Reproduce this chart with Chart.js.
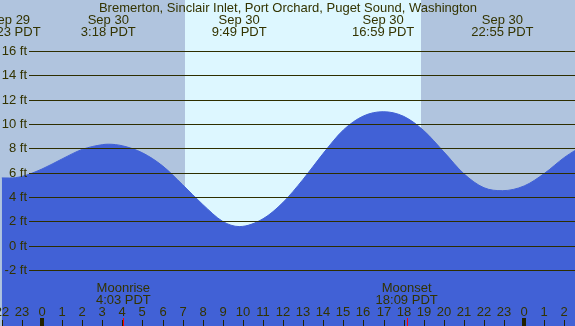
<!DOCTYPE html>
<html>
<head>
<meta charset="utf-8">
<script src="https://cdn.jsdelivr.net/npm/chart.js@4/dist/chart.umd.min.js"></script>
<style>
html,body{margin:0;padding:0;background:#b0c4de;}
#wrap{width:575px;height:326px;position:relative;}
</style>
</head>
<body>
<div id="wrap"><canvas id="c" width="575" height="326"></canvas></div>
<script>
// Hours relative to Sep 30 00:00 PDT, and tide level in feet
const hours  = [-2, -1.617, -1, 0, 1, 2, 3, 3.3, 4, 5, 6, 7, 8, 9, 9.817, 11, 12, 13, 14, 15, 16, 16.983, 18, 19, 20, 21, 22, 22.917, 24, 25, 26, 27];
const levels = [5.56, 5.55, 5.68, 6.29, 7.12, 7.9, 8.29, 8.33, 8.2, 7.62, 6.55, 5.0, 3.38, 1.98, 1.56, 2.2, 3.55, 5.45, 7.58, 9.5, 10.65, 11.0, 10.62, 9.45, 7.7, 5.9, 4.75, 4.51, 4.9, 5.92, 7.24, 8.3];

// Extremes labels at top
const extremeHours = [-1.617, 3.3, 9.817, 16.983, 22.917];
const extremeDates = ["Sep 29", "Sep 30", "Sep 30", "Sep 30", "Sep 30"];
const extremeTimes = ["22:23 PDT", "3:18 PDT", "9:49 PDT", "16:59 PDT", "22:55 PDT"];

// Y ticks (feet)
const yTicks = [-2, 0, 2, 4, 6, 8, 10, 12, 14, 16];

// Hour ticks along bottom
const hourTicks = [-2,-1,0,1,2,3,4,5,6,7,8,9,10,11,12,13,14,15,16,17,18,19,20,21,22,23,24,25,26,27];
const hourLabels = ["22","23","0","1","2","3","4","5","6","7","8","9","10","11","12","13","14","15","16","17","18","19","20","21","22","23","0","1","2","3"];
const midnightHours = [0, 24];

// Sun and moon events
const sunrise = 7.12, sunset = 18.87;
const moonEvents = [4.05, 18.15];
const moonNames = ["Moonrise", "Moonset"];
const moonTimes = ["4:03 PDT", "18:09 PDT"];

const title = "Bremerton, Sinclair Inlet, Port Orchard, Puget Sound, Washington";

const NIGHT = "#b0c4de", DAY = "#ddf7ff", WATER = "#4161d6", INK = "#333300", FONT = "13px 'Liberation Sans', Arial, sans-serif";

const bgPlugin = {
  id: "bg",
  beforeDatasetsDraw(chart) {
    const {ctx, chartArea: a, scales: {x}} = chart;
    ctx.save();
    ctx.fillStyle = NIGHT;
    ctx.fillRect(a.left, a.top, a.right - a.left, a.bottom - a.top);
    const x1 = Math.round(x.getPixelForValue(sunrise)), x2 = Math.round(x.getPixelForValue(sunset));
    ctx.fillStyle = DAY;
    ctx.fillRect(x1, a.top, x2 - x1, a.bottom - a.top);
    ctx.restore();
  },
  afterDatasetsDraw(chart) {
    const {ctx, chartArea: a, scales: {x, y}} = chart;
    ctx.save();
    // grid lines + y labels
    ctx.strokeStyle = "#2e2e00";
    ctx.lineWidth = 1;
    ctx.fillStyle = INK;
    ctx.font = FONT;
    ctx.textAlign = "right";
    ctx.textBaseline = "middle";
    yTicks.forEach(v => {
      const py = Math.round(y.getPixelForValue(v)) + 0.5;
      ctx.beginPath();
      ctx.moveTo(29, py);
      ctx.lineTo(a.right, py);
      ctx.stroke();
      ctx.fillText(v + " ft", 27, py);
    });
    // title
    ctx.textAlign = "center";
    ctx.fillText(title, 288, 8);
    // extremes
    extremeHours.forEach((h, i) => {
      const px = x.getPixelForValue(h);
      ctx.fillText(extremeDates[i], px, 20);
      ctx.fillText(extremeTimes[i], px, 32);
    });
    // moon events
    moonEvents.forEach((h, i) => {
      const px = x.getPixelForValue(h);
      ctx.fillText(moonNames[i], px, 288);
      ctx.fillText(moonTimes[i], px, 300);
    });
    // hour labels and ticks
    hourTicks.forEach((h, i) => {
      const px = Math.round(x.getPixelForValue(h));
      ctx.fillStyle = INK;
      ctx.fillText(hourLabels[i], px, 312);
      if (midnightHours.includes(h)) {
        ctx.fillStyle = "#222200";
        ctx.fillRect(px - 2, 318, 4, 8);
      } else {
        ctx.fillStyle = "#222200";
        ctx.fillRect(px, 320, 1, 6);
      }
    });
    moonEvents.forEach(h => {
      const px = Math.round(x.getPixelForValue(h));
      ctx.fillStyle = "#ff0000";
      ctx.fillRect(px, 318, 1, 8);
    });
    ctx.restore();
  }
};

new Chart(document.getElementById("c"), {
  type: "line",
  data: {
    datasets: [{
      data: hours.map((h, i) => ({x: h, y: levels[i]})),
      borderColor: WATER,
      borderWidth: 1,
      backgroundColor: WATER,
      fill: "start",
      pointRadius: 0,
      cubicInterpolationMode: "monotone"
    }]
  },
  options: {
    responsive: false,
    animation: false,
    layout: {padding: 0},
    plugins: {legend: {display: false}, tooltip: {enabled: false}, title: {display: false}},
    scales: {
      x: {type: "linear", min: -2.09, max: 26.53, display: false},
      y: {type: "linear", min: -6.61, max: 20.18, display: false}
    }
  },
  plugins: [bgPlugin]
});
</script>
</body>
</html>
